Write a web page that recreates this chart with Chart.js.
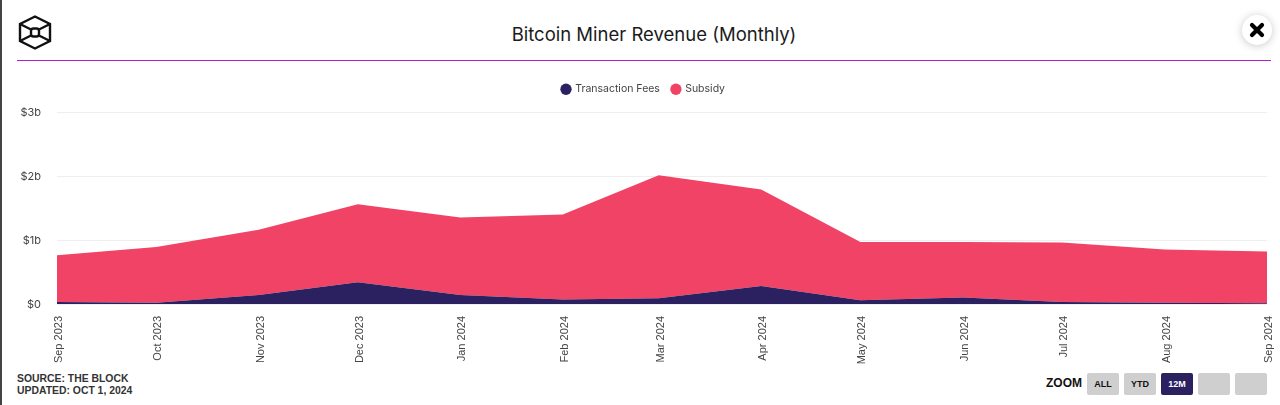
<!DOCTYPE html>
<html><head><meta charset="utf-8">
<script src="https://cdn.jsdelivr.net/npm/chart.js@4/dist/chart.umd.min.js"></script>
<style>
html,body{margin:0;padding:0;background:#fff;width:1280px;height:405px;overflow:hidden;font-family:Inter,"Liberation Sans",sans-serif}
#edge{position:absolute;left:0;top:0;width:2px;height:405px;background:#444}
#logo{position:absolute;left:17px;top:15px}
#title{position:absolute;left:0;width:1308px;top:21px;text-align:center;font-size:18.5px;line-height:26px;color:#1b1b1b}
#rule{position:absolute;left:17px;top:60px;width:1254px;height:1px;background:#b01fc8}
#close{position:absolute;left:1242px;top:15px;width:30px;height:30px;border-radius:50%;background:#fff;box-shadow:0 1px 8px rgba(0,0,0,.22);text-align:center}
#wrap{position:absolute;left:0;top:69px;width:1280px;height:303px}
#src{position:absolute;left:17px;top:373px;font-size:10.4px;line-height:12px;font-weight:700;color:#333;font-family:"Liberation Sans",sans-serif}
#zoomlabel{position:absolute;left:1046px;top:376px;font-size:12px;font-weight:700;color:#111;line-height:14px;font-family:"Liberation Sans",sans-serif}
.b{position:absolute;top:373px;width:32px;height:22px;border-radius:2px;background:#cfcfcf;color:#111;font-size:9px;font-weight:700;text-align:center;line-height:23px;font-family:"Liberation Sans",sans-serif}
</style></head><body>
<div id="edge"></div>
<svg id="logo" width="36" height="36" viewBox="0 0 36 36" fill="none" stroke="#111" stroke-width="2.4" stroke-linejoin="miter">
<path d="M18 1.5 L33 9 V26 L18 33.5 L3 26 V9 Z"/>
<rect x="14" y="13.5" width="8" height="8" rx="2.5"/>
<path d="M3 9 L14 14.5 M33 9 L22 14.5 M3 26 L14 20.5 M33 26 L22 20.5" />
</svg>
<div id="title">Bitcoin Miner Revenue (Monthly)</div>
<div id="rule"></div>
<div id="close"><svg width="30" height="30" viewBox="0 0 30 30"><path d="M10 10 L20 20 M20 10 L10 20" stroke="#000" stroke-width="4.2" stroke-linecap="round"/></svg></div>
<div id="wrap"><canvas id="c" width="1280" height="303"></canvas></div>
<div id="src">SOURCE: THE BLOCK<br>UPDATED: OCT 1, 2024</div>
<div id="zoomlabel">ZOOM</div>
<div class="b" style="left:1087px">ALL</div>
<div class="b" style="left:1124px">YTD</div>
<div class="b" style="left:1161px;background:#2c2160;color:#fff">12M</div>
<div class="b" style="left:1198px"></div>
<div class="b" style="left:1235px"></div>
<script>
const categories=["Sep 2023","Oct 2023","Nov 2023","Dec 2023","Jan 2024","Feb 2024","Mar 2024","Apr 2024","May 2024","Jun 2024","Jul 2024","Aug 2024","Sep 2024"];
const dates=["2023-09-01","2023-10-01","2023-11-01","2023-12-01","2024-01-01","2024-02-01","2024-03-01","2024-04-01","2024-05-01","2024-06-01","2024-07-01","2024-08-01","2024-09-01"];
const transactionFees=[0.03,0.02,0.14,0.34,0.14,0.07,0.09,0.28,0.06,0.10,0.03,0.02,0.01];
const subsidy=[0.73,0.87,1.02,1.22,1.21,1.33,1.92,1.51,0.91,0.87,0.93,0.83,0.81];
const yTicks=[0,1,2,3];
const days=dates.map(d=>Math.round((Date.parse(d)-Date.parse(dates[0]))/864e5));
const toPts=a=>a.map((v,i)=>({x:days[i],y:v}));
const legendTweak={id:'legendTweak',
 beforeLayout(chart){const l=chart.legend;if(l&&!l._patched){const f=l.fit;l.fit=function(){f.call(this);this.height+=7.5;};l._patched=true;}},
 afterLayout(chart){const l=chart.legend;if(l){l.left+=10;l.right+=10;}}
};
new Chart(document.getElementById('c'),{
 type:'line',
 plugins:[legendTweak],
 data:{datasets:[
  {label:'Transaction Fees',data:toPts(transactionFees),backgroundColor:'#2c2160',borderColor:'#2c2160',fill:'origin',pointRadius:0,borderWidth:0,tension:0,stack:'s',order:0},
  {label:'Subsidy',data:toPts(subsidy),backgroundColor:'#f04366',borderColor:'#f04366',fill:'-1',pointRadius:0,borderWidth:0,tension:0,stack:'s',order:1}
 ]},
 options:{responsive:false,animation:false,
  layout:{padding:{left:0,right:13,top:3,bottom:0}},
  plugins:{tooltip:{enabled:false},
   legend:{position:'top',align:'center',labels:{usePointStyle:true,pointStyle:'circle',boxWidth:8,boxHeight:8,padding:12,color:'#444',font:{family:'Inter',size:10.5}}}},
  scales:{
   x:{type:'linear',min:0,max:366,
    afterBuildTicks(ax){ax.ticks=days.map(v=>({value:v}));},
    afterFit(ax){ax.height=68;ax.paddingLeft=0;ax.paddingRight=0;},
    grid:{display:false},border:{display:false},
    ticks:{autoSkip:false,minRotation:90,maxRotation:90,padding:4,labelOffset:2,color:'#444',font:{family:'Liberation Sans',size:11},
     callback(v){return categories[days.indexOf(v)];}}},
   y:{stacked:true,min:0,max:3,
    afterBuildTicks(ax){ax.ticks=yTicks.map(v=>({value:v}));},
    afterFit(ax){ax.width=57;},
    grid:{color:'#eeeeee',drawTicks:false},border:{display:false},
    ticks:{padding:16,labelOffset:1,color:'#444',font:{family:'Inter',size:11},callback:v=>'$'+v+(v?'b':'')}}
  }}
});
</script>
</body></html>
